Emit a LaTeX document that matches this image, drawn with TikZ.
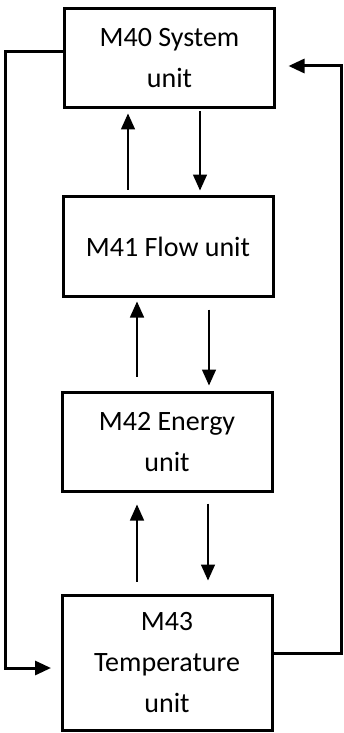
\documentclass[tikz,border=0pt]{standalone}
\usepackage{fontspec}
\setmainfont{Carlito}
\usetikzlibrary{arrows.meta, positioning}

\begin{document}
\begin{tikzpicture}[x=1pt, y=-1pt,
  unit/.style={draw=black, line width=3pt, align=center, inner sep=0pt,
               minimum width=210pt, minimum height=99pt,
               font=\fontsize{28}{41}\selectfont},
  arr/.style={-{Triangle[length=16pt, width=14pt]}, line width=1.5pt},
  feedback/.style={-{Triangle[length=16pt, width=14pt]}, line width=3pt},
]
\useasboundingbox (0,0) rectangle (343,733);
\node[unit] (b40) at (169.5,58) {M40 System\\unit};
\node[unit, below=86pt of b40, xshift=-1.5pt, minimum height=100pt] (b41) {M41 Flow unit};
\node[unit, below=93pt of b41, xshift=-1pt] (b42) {M42 Energy\\unit};
\node[unit, below=101pt of b42, minimum height=135pt] (b43) {M43\\Temperature\\unit};
% up and down between neighbours
\draw[arr, shorten <=5.5pt, shorten >=4.5pt] ([xshift=-40pt]b41.north) -- ([xshift=-41.5pt]b40.south);
\draw[arr, shorten <=2.5pt, shorten >=4.5pt] ([xshift=30.5pt]b40.south) -- ([xshift=32pt]b41.north);
\draw[arr, shorten <=14.5pt, shorten >=3.5pt] ([xshift=-30pt]b42.north) -- ([xshift=-31pt]b41.south);
\draw[arr, shorten <=11.5pt, shorten >=5.5pt] ([xshift=41pt]b41.south) -- ([xshift=42pt]b42.north);
\draw[arr, shorten <=12.5pt, shorten >=11.5pt] ([xshift=-30pt]b43.north) -- ([xshift=-30pt]b42.south);
\draw[arr, shorten <=10.5pt, shorten >=13.5pt] ([xshift=41pt]b42.south) -- ([xshift=41pt]b43.north);
% outer loops
\draw[feedback, shorten >=9.5pt] ([yshift=6pt]b40.west) -| (5,668) -- ([yshift=-5pt]b43.west);
\draw[feedback, shorten >=12.5pt] ([yshift=10pt]b43.east) -| (341,66) -- ([yshift=-8pt]b40.east);
\end{tikzpicture}
\end{document}
